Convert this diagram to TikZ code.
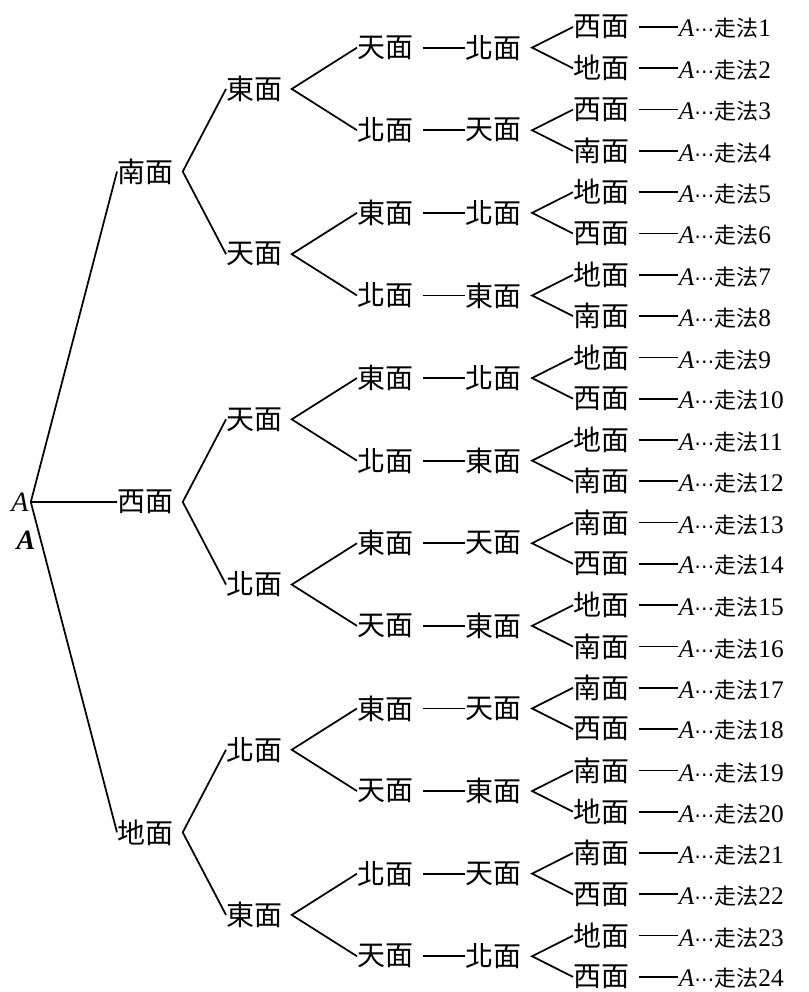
\documentclass[tikz,border=0pt]{standalone}
\usepackage{fontspec}
\setmainfont{Liberation Serif}
\newfontfamily\cjk{Noto Sans CJK TC}
\newfontfamily\sym{DejaVu Sans}
\tikzset{every picture/.style={line width=1.3pt}}
\tikzset{
  face/.style={font=\fontsize{21}{25}\selectfont\cjk, inner sep=0pt, anchor=west},
  lab/.style={font=\fontsize{19}{22}\selectfont, inner sep=0pt, anchor=base west}
}
\newcommand{\way}[1]{\textit{A}{\sym\fontsize{15}{18}\selectfont ⋯}{\cjk\fontsize{16.5}{20}\selectfont 走法}#1}

\begin{document}
\begin{tikzpicture}[x=0.75pt,y=0.75pt,yscale=-1,xscale=1]
\useasboundingbox (0,0) rectangle (808,992);
\coordinate (lx) at (678,0);

% Text Node: start
\node[inner sep=1pt, font=\fontsize{21}{25}\selectfont] (A0) at (20,502) {\textit{A}};
\node[inner sep=1pt, font=\fontsize{21}{25}\selectfont] (A1) at (26,540) {\textbf{\textit{A}}};

% leaves, one per way
\foreach \nm [count=\i] in {西面,地面,西面,南面,地面,西面,地面,南面,地面,西面,地面,南面,南面,西面,地面,南面,南面,西面,南面,地面,南面,西面,地面,西面}{
  \node[face] (l\i) at (573,{27+(\i-1)*41.3}) {\nm};
  \node[lab] (w\i) at (l\i.base -| lx) {\way{\i}};
  \draw ([xshift=6pt]l\i.east) -- (l\i.east -| w\i.west);
}

% third and fourth faces
\foreach \p/\q [count=\j] in {天面/北面,北面/天面,東面/北面,北面/東面,東面/北面,北面/東面,東面/天面,天面/東面,東面/天面,天面/東面,北面/天面,天面/北面}{
  \pgfmathtruncatemacro\a{2*\j-1}
  \pgfmathtruncatemacro\b{2*\j}
  \node[face] (p\j) at (357,{27+(2*\j-1.5)*41.3}) {\p};
  \node[face] (q\j) at (465,{27+(2*\j-1.5)*41.3}) {\q};
  \draw ([xshift=6pt]p\j.east) -- (p\j.east -| q\j.west);
  \draw (l\a.west) -- ([xshift=7pt]q\j.east) -- (l\b.west);
}

% second faces
\foreach \nm [count=\k] in {東面,天面,天面,北面,北面,東面}{
  \pgfmathtruncatemacro\a{2*\k-1}
  \pgfmathtruncatemacro\b{2*\k}
  \node[face] (m\k) at (226,{27+(4*\k-2.5)*41.3}) {\nm};
  \draw (p\a.west) -- ([xshift=6pt]m\k.east) -- (p\b.west);
}

% first faces
\foreach \nm [count=\k] in {南面,西面,地面}{
  \pgfmathtruncatemacro\a{2*\k-1}
  \pgfmathtruncatemacro\b{2*\k}
  \node[face] (f\k) at (117,{27+(8*\k-4.5)*41.3}) {\nm};
  \draw (m\a.west) -- ([xshift=6pt]f\k.east) -- (m\b.west);
  \draw (A0.east) -- (f\k.west);
}

\end{tikzpicture}
\end{document}
